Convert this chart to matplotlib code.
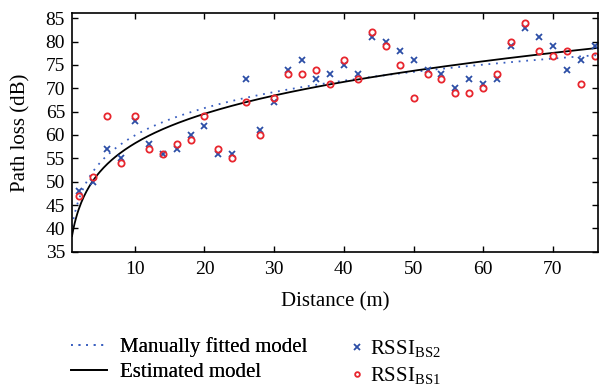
import numpy as np
import matplotlib
matplotlib.use("Agg")
import matplotlib.pyplot as plt

plt.rcParams['font.family'] = ['Liberation Serif', 'DejaVu Serif']
plt.rcParams['mathtext.fontset'] = 'custom'
plt.rcParams['mathtext.rm'] = 'Liberation Serif'
plt.rcParams['mathtext.it'] = 'Liberation Serif:italic'

# Measurement data
distance = [2, 4, 6, 8, 10, 12, 14, 16, 18, 20, 22, 24, 26, 28, 30, 32, 34, 36, 38,
            40, 42, 44, 46, 48, 50, 52, 54, 56, 58, 60, 62, 64, 66, 68, 70, 72, 74, 76]
rssi_bs2 = [48, 50, 57, 55, 63, 58, 56, 57, 60, 62, 56, 56, 72, 61, 67, 74, 76, 72, 73,
            75, 73, 81, 80, 78, 76, 74, 73, 70, 72, 71, 72, 79, 83, 81, 79, 74, 76, 79]
rssi_bs1 = [47, 51, 64, 54, 64, 57, 56, 58, 59, 64, 57, 55, 67, 60, 68, 73, 73, 74, 71,
            76, 72, 82, 79, 75, 68, 73, 72, 69, 69, 70, 73, 80, 84, 78, 77, 78, 71, 77]

# Model parameters
manual_pl0, manual_slope = 40.4, 19.5                 # PL = PL0 + slope*log10(d)
est_pl0, est_slope, est_lin = 38.3, 19.4, 0.05        # PL = PL0 + slope*log10(d) + lin*d

d = np.linspace(1, 76.5, 400)
manual = manual_pl0 + manual_slope * np.log10(d)
estimated = est_pl0 + est_slope * np.log10(d) + est_lin * d

fig = plt.figure(figsize=(5.99, 3.90), dpi=100)
ax = fig.add_axes([72/599, 1-251.7/390, (598.3-72)/599, (251.7-13.3)/390])

blue = '#2c4ea6'
red = '#e8262e'
l1, = ax.plot(d, manual, linestyle=(0, (1, 3.2)), color='#3a5fc0', lw=1.3,
              label='Manually fitted model')
l2, = ax.plot(d, estimated, color='black', lw=1.3, label='Estimated model')
s2, = ax.plot(distance, rssi_bs2, linestyle='none', marker='x', color=blue,
              markersize=5, markeredgewidth=1.3, label=r'RSSI$_{\mathrm{BS2}}$')
s1, = ax.plot(distance, rssi_bs1, linestyle='none', marker='o', markerfacecolor='none',
              markeredgecolor=red, markersize=4.5, markeredgewidth=1.3,
              label=r'RSSI$_{\mathrm{BS1}}$')

ax.set_xlim(1, 76.5)
ax.set_ylim(35, 86.07)
ax.set_xticks([10, 20, 30, 40, 50, 60, 70])
ax.set_yticks([35, 40, 45, 50, 55, 60, 65, 70, 75, 80, 85])
ax.tick_params(direction='in', length=4, width=1, top=True, right=True, labelsize=14)
ax.tick_params(axis='x', pad=7)
ax.tick_params(axis='y', pad=5)
for sp in ax.spines.values():
    sp.set_linewidth(1.2)

ax.set_xlabel('Distance (m)', fontsize=15, labelpad=10)
ax.set_ylabel('Path loss (dB)', fontsize=15, labelpad=11)

leg1 = fig.legend(handles=[l1, l2], loc='upper left',
                  bbox_to_anchor=(71/599, 1-337/390), frameon=False, fontsize=15,
                  handlelength=1.73, handletextpad=0.6,
                  labelspacing=0.28, borderaxespad=0, borderpad=0)
leg2 = fig.legend(handles=[s2, s1], loc='upper left',
                  bbox_to_anchor=(349/599, 1-338/390), frameon=False, fontsize=15,
                  handlelength=0.8, handletextpad=0.23, markerscale=0.75,
                  labelspacing=0.3, borderaxespad=0, borderpad=0)
fig.add_artist(leg1)

fig.savefig('out.png', dpi=100)
